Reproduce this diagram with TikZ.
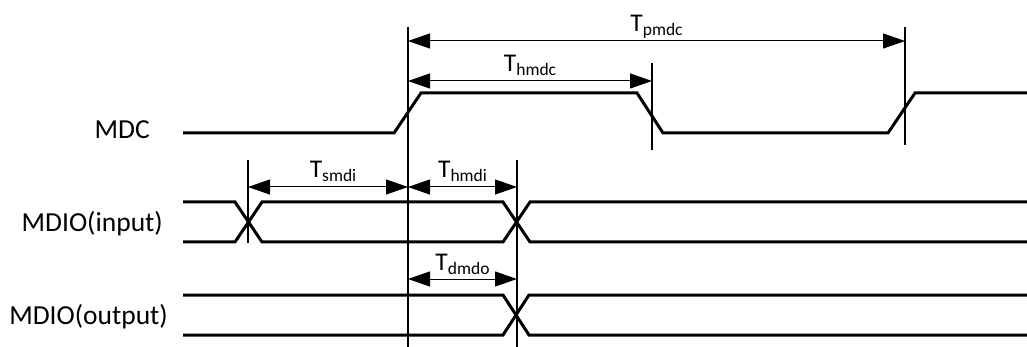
\documentclass[tikz,border=0pt]{standalone}
\usepackage{fontspec}
\setmainfont{Carlito}
\usetikzlibrary{arrows.meta,calc}
\newcommand\Tsub[1]{T\raisebox{-4pt}{\fontsize{17.5}{20}\selectfont #1}}
\begin{document}
\begin{tikzpicture}[x=1pt,y=-1pt,
  sig/.style={line width=3pt,line cap=butt},
  guide/.style={line width=1.1pt},
  dim/.style={line width=1pt,{Triangle[length=22pt,width=15pt]}-{Triangle[length=22pt,width=15pt]}},
  lbl/.style={font=\fontsize{27.5}{30}\selectfont,inner sep=0pt,anchor=base east},
  tlbl/.style={font=\fontsize{25.5}{30}\selectfont,inner sep=0pt,anchor=base,yshift=9pt},
]
\useasboundingbox (0,0) rectangle (1027,347);

% signal names
\node[lbl] (mdc) at (150,139) {MDC};
\node[lbl] (mdin) at (163,232) {MDIO(input)};
\node[lbl] (mdout) at (168,324) {MDIO(output)};

% guide lines
\coordinate (g1t) at (248,160); \coordinate (g1b) at (248,243);
\coordinate (g2t) at (408,27);  \coordinate (g2b) at (408,347);
\coordinate (g3t) at (517,160); \coordinate (g3b) at (517,347);
\coordinate (g4t) at (652,63);  \coordinate (g4b) at (652,150);
\coordinate (g5t) at (905,27);  \coordinate (g5b) at (905,145);
\foreach \g in {g1,g2,g3,g4,g5} \draw[guide] (\g t) -- (\g b);

% waveforms
\draw[sig] (183,133) -- (394,133) -- (421,93) -- (637,93) -- (663,133) -- (888,133) -- (915,93) -- (1027,93);
\draw[sig] (183,202) -- (235,202) -- (262,242) -- (503,242) -- (530,202) -- (1027,202);
\draw[sig] (183,242) -- (235,242) -- (262,202) -- (503,202) -- (530,242) -- (1027,242);
\draw[sig] (183,295) -- (503,295) -- (529,335) -- (1027,335);
\draw[sig] (183,335) -- (503,335) -- (529,295) -- (1027,295);

% dimension arrows
\coordinate (pl) at (408,41);  \coordinate (pr) at (905,41);
\coordinate (hl) at (408,81);  \coordinate (hr) at (652,81);
\coordinate (sl) at (248,187); \coordinate (sr) at (408,187);
\coordinate (il) at (408,187); \coordinate (ir) at (517,187);
\coordinate (dl) at (408,279); \coordinate (dr) at (517,279);
\draw[dim] (pl) -- (pr);
\draw[dim] (hl) -- (hr);
\draw[dim] (sl) -- (sr);
\draw[dim] (il) -- (ir);
\draw[dim] (dl) -- (dr);

\node[tlbl] (tp) at ($(pl)!0.5!(pr)$) {\Tsub{pmdc}};
\node[tlbl] (th) at ($(hl)!0.5!(hr)$) {\Tsub{hmdc}};
\node[tlbl,xshift=5pt] (ts) at ($(sl)!0.5!(sr)$) {\Tsub{smdi}};
\node[tlbl] (ti) at ($(il)!0.5!(ir)$) {\Tsub{hmdi}};
\node[tlbl] (td) at ($(dl)!0.5!(dr)$) {\Tsub{dmdo}};
\end{tikzpicture}
\end{document}
